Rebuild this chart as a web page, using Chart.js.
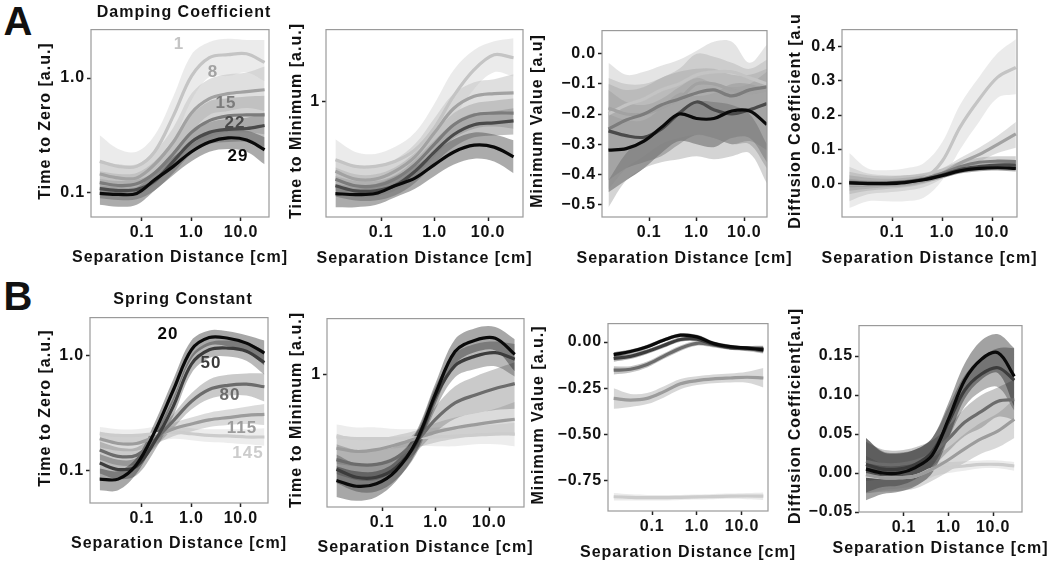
<!DOCTYPE html>
<html>
<head>
<meta charset="utf-8">
<script src="https://cdn.jsdelivr.net/npm/chart.js@4.4.1/dist/chart.umd.min.js"></script>
<style>
  html, body { margin: 0; padding: 0; background: #fff; }
  body { width: 1050px; height: 563px; position: relative; overflow: hidden; font-family: "Liberation Sans", Arial, sans-serif; }
  canvas { position: absolute; z-index: 1; }
  .txt { position: absolute; z-index: 2; font-weight: bold; color: #111; transform: translate(-50%, -50%); white-space: nowrap; line-height: 1; letter-spacing: 1px; }
</style>
</head>
<body>
<div class="txt" style="left:18px;top:21px;font-size:40px;letter-spacing:0">A</div>
<div class="txt" style="left:18px;top:296px;font-size:40px;letter-spacing:0">B</div>
<div class="txt" style="left:184px;top:12px;font-size:16px">Damping Coefficient</div>
<div class="txt" style="left:183px;top:299px;font-size:16px">Spring Constant</div>
<script>
const FONT = "'Liberation Sans', Arial, sans-serif";

// separation distance [cm] where the smoothed curves are sampled
const distance = [0.014, 0.033, 0.078, 0.18, 0.43, 1.0, 2.3, 5.5, 13, 30];

const dampingLevels = ["1", "8", "15", "22", "29"];
const springLevels = ["20", "50", "80", "115", "145"];
const dampingGreys = ["#c4c4c4", "#a2a2a2", "#7c7c7c", "#4a4a4a", "#0a0a0a"];
const springGreys = ["#0a0a0a", "#3c3c3c", "#6c6c6c", "#9c9c9c", "#cccccc"];

const xTicks = [0.1, 1, 10];
const xTickLabels = ["0.1", "1.0", "10.0"];
const xTitle = "Separation Distance [cm]";

// ---- A: damping coefficient ----
const zeroDampMid = [
  [0.187, 0.169, 0.169, 0.227, 0.467, 1.04, 1.51, 1.60, 1.63, 1.37],
  [0.145, 0.134, 0.134, 0.176, 0.276, 0.495, 0.66, 0.73, 0.76, 0.79],
  [0.122, 0.115, 0.119, 0.148, 0.218, 0.335, 0.424, 0.467, 0.476, 0.476],
  [0.108, 0.104, 0.106, 0.126, 0.187, 0.276, 0.335, 0.356, 0.362, 0.385],
  [0.098, 0.096, 0.098, 0.129, 0.169, 0.227, 0.276, 0.30, 0.287, 0.236]
];
const zeroDampHigh = [
  [0.316, 0.24, 0.227, 0.316, 0.69, 1.6, 2.06, 2.2, 2.15, 2.15],
  [0.187, 0.176, 0.176, 0.227, 0.37, 0.731, 0.98, 1.08, 1.12, 1.26],
  [0.153, 0.145, 0.148, 0.187, 0.287, 0.476, 0.627, 0.664, 0.69, 0.70],
  [0.131, 0.126, 0.129, 0.151, 0.227, 0.335, 0.408, 0.44, 0.45, 0.50],
  [0.115, 0.112, 0.112, 0.148, 0.205, 0.265, 0.33, 0.356, 0.348, 0.304]
];
const zeroDampLow = [
  [0.110, 0.104, 0.110, 0.163, 0.276, 0.638, 1.02, 1.04, 1.12, 0.94],
  [0.108, 0.104, 0.104, 0.134, 0.206, 0.335, 0.476, 0.515, 0.546, 0.515],
  [0.094, 0.092, 0.094, 0.117, 0.169, 0.25, 0.304, 0.335, 0.335, 0.322],
  [0.089, 0.086, 0.087, 0.104, 0.148, 0.218, 0.265, 0.276, 0.276, 0.25],
  [0.078, 0.075, 0.078, 0.104, 0.142, 0.187, 0.227, 0.24, 0.227, 0.176]
];

const minDampMid = [
  [0.464, 0.425, 0.425, 0.453, 0.527, 0.708, 1.08, 1.52, 1.85, 1.78],
  [0.398, 0.359, 0.359, 0.398, 0.482, 0.664, 0.914, 1.07, 1.11, 1.12],
  [0.359, 0.329, 0.329, 0.359, 0.435, 0.57, 0.736, 0.836, 0.858, 0.858],
  [0.329, 0.308, 0.308, 0.329, 0.398, 0.514, 0.647, 0.736, 0.755, 0.774],
  [0.297, 0.293, 0.297, 0.329, 0.364, 0.435, 0.514, 0.562, 0.548, 0.482]
];
const minDampHigh = [
  [0.607, 0.514, 0.501, 0.548, 0.664, 0.975, 1.52, 1.97, 2.21, 2.30],
  [0.464, 0.425, 0.425, 0.464, 0.57, 0.805, 1.11, 1.29, 1.34, 1.43],
  [0.419, 0.383, 0.383, 0.419, 0.508, 0.664, 0.858, 0.975, 1.01, 1.04],
  [0.374, 0.35, 0.35, 0.378, 0.464, 0.6, 0.755, 0.858, 0.88, 0.914],
  [0.337, 0.329, 0.337, 0.374, 0.425, 0.514, 0.607, 0.664, 0.647, 0.60]
];
const minDampLow = [
  [0.329, 0.316, 0.329, 0.359, 0.425, 0.548, 0.805, 1.18, 1.47, 1.39],
  [0.329, 0.308, 0.308, 0.341, 0.409, 0.548, 0.736, 0.858, 0.88, 0.88],
  [0.308, 0.286, 0.286, 0.308, 0.369, 0.482, 0.615, 0.699, 0.718, 0.699],
  [0.286, 0.271, 0.271, 0.289, 0.341, 0.441, 0.548, 0.623, 0.639, 0.647],
  [0.248, 0.248, 0.255, 0.282, 0.316, 0.374, 0.435, 0.47, 0.453, 0.388]
];

const valDampMid = [
  [-0.2, -0.17, -0.15, -0.12, -0.1, -0.07, -0.06, -0.06, -0.08, -0.1],
  [-0.18, -0.2, -0.2, -0.18, -0.15, -0.1, -0.1, -0.12, -0.13, -0.12],
  [-0.25, -0.22, -0.2, -0.17, -0.15, -0.13, -0.12, -0.14, -0.12, -0.11],
  [-0.256, -0.272, -0.277, -0.25, -0.197, -0.16, -0.186, -0.2, -0.186, -0.165],
  [-0.32, -0.315, -0.29, -0.245, -0.2, -0.215, -0.215, -0.19, -0.19, -0.235]
];
const valDampHigh = [
  [-0.03, -0.07, -0.06, -0.04, -0.02, 0.01, 0.04, 0.04, -0.03, 0.03],
  [-0.08, -0.1, -0.1, -0.08, -0.05, 0.0, -0.01, -0.03, -0.05, -0.02],
  [-0.1, -0.12, -0.11, -0.08, -0.06, -0.05, -0.05, -0.07, -0.07, -0.05],
  [-0.12, -0.16, -0.17, -0.15, -0.11, -0.08, -0.1, -0.11, -0.1, -0.06],
  [-0.2, -0.22, -0.22, -0.18, -0.13, -0.14, -0.13, -0.1, -0.1, -0.12]
];
const valDampLow = [
  [-0.42, -0.33, -0.28, -0.24, -0.2, -0.16, -0.16, -0.17, -0.2, -0.3],
  [-0.51, -0.42, -0.38, -0.36, -0.35, -0.34, -0.35, -0.34, -0.33, -0.43],
  [-0.45, -0.38, -0.34, -0.3, -0.28, -0.27, -0.28, -0.3, -0.3, -0.38],
  [-0.42, -0.38, -0.36, -0.34, -0.3, -0.27, -0.28, -0.3, -0.29, -0.32],
  [-0.46, -0.42, -0.38, -0.33, -0.29, -0.3, -0.31, -0.28, -0.28, -0.36]
];

const diffDampMid = [
  [0.0, 0.0, 0.002, 0.005, 0.015, 0.065, 0.165, 0.245, 0.31, 0.338],
  [0.0, 0.0, 0.0, 0.004, 0.012, 0.03, 0.06, 0.085, 0.115, 0.145],
  [0.005, 0.003, 0.003, 0.006, 0.015, 0.03, 0.05, 0.063, 0.066, 0.065],
  [0.004, 0.002, 0.002, 0.005, 0.013, 0.026, 0.042, 0.05, 0.055, 0.055],
  [0.003, 0.001, 0.001, 0.004, 0.012, 0.024, 0.038, 0.045, 0.047, 0.045]
];
const diffDampHigh = [
  [0.09, 0.045, 0.04, 0.045, 0.06, 0.12, 0.23, 0.31, 0.38, 0.42],
  [0.05, 0.03, 0.025, 0.025, 0.03, 0.045, 0.075, 0.105, 0.14, 0.18],
  [0.035, 0.025, 0.022, 0.025, 0.032, 0.045, 0.065, 0.076, 0.08, 0.08],
  [0.025, 0.018, 0.015, 0.018, 0.025, 0.036, 0.052, 0.06, 0.065, 0.068],
  [0.015, 0.01, 0.009, 0.012, 0.02, 0.032, 0.046, 0.053, 0.055, 0.055]
];
const diffDampLow = [
  [-0.07, -0.05, -0.05, -0.05, -0.04, 0.01, 0.1, 0.18, 0.25, 0.26],
  [-0.05, -0.03, -0.025, -0.02, -0.01, 0.015, 0.045, 0.065, 0.09, 0.105],
  [-0.03, -0.02, -0.015, -0.01, 0.0, 0.018, 0.036, 0.05, 0.052, 0.05],
  [-0.02, -0.014, -0.01, -0.007, 0.003, 0.017, 0.032, 0.04, 0.044, 0.042],
  [-0.01, -0.008, -0.006, -0.003, 0.004, 0.016, 0.03, 0.037, 0.039, 0.036]
];

// ---- B: spring constant ----
const zeroSpringMid = [
  [0.085, 0.085, 0.114, 0.217, 0.5, 1.12, 1.43, 1.41, 1.28, 1.05],
  [0.117, 0.103, 0.11, 0.179, 0.363, 0.84, 1.12, 1.16, 1.09, 0.87],
  [0.152, 0.134, 0.137, 0.185, 0.272, 0.40, 0.508, 0.552, 0.565, 0.536],
  [0.19, 0.173, 0.173, 0.197, 0.231, 0.255, 0.277, 0.29, 0.303, 0.309],
  [0.21, 0.203, 0.203, 0.21, 0.217, 0.21, 0.203, 0.201, 0.197, 0.197]
];
const zeroSpringHigh = [
  [0.105, 0.1, 0.13, 0.26, 0.62, 1.35, 1.65, 1.62, 1.5, 1.35],
  [0.14, 0.125, 0.13, 0.21, 0.43, 1.0, 1.3, 1.35, 1.3, 1.1],
  [0.18, 0.16, 0.16, 0.21, 0.31, 0.47, 0.62, 0.68, 0.7, 0.7],
  [0.22, 0.2, 0.2, 0.22, 0.26, 0.29, 0.32, 0.34, 0.36, 0.38],
  [0.24, 0.23, 0.23, 0.24, 0.245, 0.235, 0.23, 0.23, 0.23, 0.235]
];
const zeroSpringLow = [
  [0.068, 0.068, 0.095, 0.18, 0.4, 0.93, 1.22, 1.2, 1.08, 0.82],
  [0.095, 0.085, 0.092, 0.15, 0.3, 0.7, 0.95, 0.98, 0.9, 0.68],
  [0.125, 0.112, 0.115, 0.16, 0.235, 0.34, 0.42, 0.45, 0.45, 0.4],
  [0.16, 0.15, 0.15, 0.17, 0.2, 0.22, 0.24, 0.25, 0.255, 0.25],
  [0.18, 0.175, 0.175, 0.18, 0.19, 0.185, 0.178, 0.175, 0.17, 0.165]
];

const minSpringMid = [
  [0.248, 0.23, 0.238, 0.282, 0.414, 0.784, 1.36, 1.58, 1.62, 1.31],
  [0.288, 0.259, 0.259, 0.294, 0.405, 0.752, 1.13, 1.28, 1.34, 1.23],
  [0.327, 0.307, 0.307, 0.334, 0.414, 0.557, 0.69, 0.767, 0.836, 0.891],
  [0.38, 0.364, 0.373, 0.397, 0.432, 0.47, 0.497, 0.519, 0.539, 0.557],
  [0.441, 0.432, 0.432, 0.432, 0.436, 0.441, 0.446, 0.452, 0.458, 0.458]
];
const minSpringHigh = [
  [0.3, 0.28, 0.28, 0.32, 0.47, 0.9, 1.6, 1.85, 1.88, 1.6],
  [0.35, 0.31, 0.31, 0.34, 0.46, 0.86, 1.32, 1.5, 1.55, 1.5],
  [0.4, 0.37, 0.37, 0.39, 0.47, 0.66, 0.86, 0.98, 1.08, 1.18],
  [0.46, 0.43, 0.43, 0.45, 0.48, 0.53, 0.57, 0.6, 0.64, 0.7],
  [0.52, 0.5, 0.5, 0.49, 0.49, 0.5, 0.5, 0.51, 0.52, 0.53]
];
const minSpringLow = [
  [0.2, 0.19, 0.2, 0.245, 0.36, 0.68, 1.15, 1.35, 1.38, 1.05],
  [0.24, 0.215, 0.215, 0.25, 0.35, 0.64, 0.97, 1.08, 1.12, 0.98],
  [0.27, 0.25, 0.25, 0.285, 0.36, 0.47, 0.56, 0.6, 0.63, 0.64],
  [0.31, 0.3, 0.31, 0.34, 0.38, 0.41, 0.43, 0.45, 0.46, 0.45],
  [0.37, 0.37, 0.37, 0.38, 0.39, 0.39, 0.39, 0.4, 0.4, 0.39]
];

const valSpringMid = [
  [-0.068, -0.051, -0.025, 0.01, 0.037, 0.028, -0.007, -0.025, -0.033, -0.042],
  [-0.089, -0.077, -0.051, -0.019, 0.014, 0.016, -0.012, -0.03, -0.033, -0.037],
  [-0.152, -0.147, -0.121, -0.077, -0.033, -0.007, -0.016, -0.03, -0.037, -0.042],
  [-0.304, -0.313, -0.304, -0.269, -0.225, -0.208, -0.199, -0.194, -0.19, -0.194],
  [-0.835, -0.838, -0.84, -0.84, -0.838, -0.836, -0.834, -0.832, -0.831, -0.832]
];
const valSpringHigh = [
  [-0.055, -0.04, -0.014, 0.02, 0.047, 0.039, 0.004, -0.015, -0.023, -0.028],
  [-0.072, -0.063, -0.038, -0.006, 0.026, 0.028, 0.0, -0.019, -0.021, -0.02],
  [-0.13, -0.13, -0.105, -0.062, -0.018, 0.006, -0.003, -0.018, -0.024, -0.022],
  [-0.25, -0.28, -0.275, -0.24, -0.2, -0.185, -0.175, -0.17, -0.16, -0.14],
  [-0.815, -0.822, -0.825, -0.826, -0.825, -0.823, -0.82, -0.818, -0.815, -0.812]
];
const valSpringLow = [
  [-0.083, -0.063, -0.036, 0.0, 0.027, 0.017, -0.018, -0.035, -0.043, -0.058],
  [-0.106, -0.091, -0.064, -0.032, 0.002, 0.004, -0.024, -0.041, -0.045, -0.054],
  [-0.175, -0.164, -0.137, -0.092, -0.048, -0.02, -0.029, -0.042, -0.05, -0.062],
  [-0.36, -0.35, -0.335, -0.3, -0.255, -0.232, -0.222, -0.218, -0.22, -0.245],
  [-0.855, -0.855, -0.855, -0.855, -0.852, -0.85, -0.848, -0.846, -0.848, -0.852]
];

const diffSpringMid = [
  [0.005, 0.0, 0.0, 0.007, 0.023, 0.069, 0.119, 0.146, 0.154, 0.124],
  [0.011, 0.005, 0.005, 0.011, 0.027, 0.065, 0.106, 0.127, 0.135, 0.119],
  [0.015, 0.011, 0.011, 0.015, 0.025, 0.044, 0.065, 0.079, 0.092, 0.094],
  [-0.002, -0.006, -0.006, -0.004, 0.005, 0.017, 0.031, 0.044, 0.054, 0.069],
  [-0.004, -0.006, -0.006, -0.004, 0.005, 0.007, 0.009, 0.011, 0.011, 0.009]
];
const diffSpringHigh = [
  [0.045, 0.027, 0.025, 0.03, 0.045, 0.09, 0.14, 0.17, 0.178, 0.16],
  [0.045, 0.028, 0.026, 0.03, 0.045, 0.085, 0.125, 0.148, 0.16, 0.16],
  [0.04, 0.03, 0.029, 0.033, 0.042, 0.06, 0.083, 0.1, 0.11, 0.12],
  [0.022, 0.012, 0.011, 0.012, 0.02, 0.033, 0.05, 0.065, 0.077, 0.095],
  [0.018, 0.01, 0.008, 0.008, 0.015, 0.014, 0.015, 0.016, 0.016, 0.014]
];
const diffSpringLow = [
  [-0.035, -0.027, -0.024, -0.017, 0.0, 0.045, 0.095, 0.12, 0.128, 0.085],
  [-0.025, -0.018, -0.016, -0.008, 0.009, 0.045, 0.085, 0.105, 0.11, 0.08],
  [-0.01, -0.008, -0.007, -0.003, 0.008, 0.028, 0.047, 0.058, 0.072, 0.068],
  [-0.026, -0.024, -0.023, -0.02, -0.01, 0.002, 0.013, 0.025, 0.033, 0.045],
  [-0.026, -0.022, -0.02, -0.016, -0.005, 0.0, 0.003, 0.006, 0.006, 0.003]
];

// y tick values and labels
const zeroTicks = [0.1, 1];
const zeroTickLabels = ["0.1", "1.0"];
const minTicks = [1];
const minTickLabels = ["1"];
const valDampTicks = [0, -0.1, -0.2, -0.3, -0.4, -0.5];
const valDampTickLabels = ["0.0", "\u22120.1", "\u22120.2", "\u22120.3", "\u22120.4", "\u22120.5"];
const diffDampTicks = [0, 0.1, 0.2, 0.3, 0.4];
const diffDampTickLabels = ["0.0", "0.1", "0.2", "0.3", "0.4"];
const valSpringTicks = [0, -0.25, -0.5, -0.75];
const valSpringTickLabels = ["0.00", "\u22120.25", "\u22120.50", "\u22120.75"];
const diffSpringTicks = [-0.05, 0, 0.05, 0.1, 0.15];
const diffSpringTickLabels = ["\u22120.05", "0.00", "0.05", "0.10", "0.15"];

// where the direct labels of panel 1 sit (page pixels)
const dampLabelPos = [[179, 43], [213, 71], [226, 102], [235, 122], [238, 155]];
const springLabelPos = [[168, 333], [211, 362], [230, 394], [242, 427], [248, 452]];

const panels = [
  { box: [91, 24, 269, 217], yTitleX: 45, xTitleY: 257, xExp: [-2.03, 1.566], yType: "logarithmic", yRange: [0.061, 2.65],
    yTicks: zeroTicks, yLabels: zeroTickLabels, yTitle: "Time to Zero [a.u.]", bandAlpha: 0.34,
    mid: zeroDampMid, high: zeroDampHigh, low: zeroDampLow, greys: dampingGreys },
  { box: [326, 24, 523, 217], yTitleX: 296, xTitleY: 258, xExp: [-2.03, 1.654], yType: "logarithmic", yRange: [0.218, 2.58],
    yTicks: minTicks, yLabels: minTickLabels, yTitle: "Time to Minimum [a.u.]", bandAlpha: 0.34,
    mid: minDampMid, high: minDampHigh, low: minDampLow, greys: dampingGreys },
  { box: [602, 25, 767, 217], yTitleX: 537, xTitleY: 258, xExp: [-1.99, 1.48], yType: "linear", yRange: [-0.542, 0.077],
    yTicks: valDampTicks, yLabels: valDampTickLabels, yTitle: "Minimum Value [a.u]", bandAlpha: 0.46,
    mid: valDampMid, high: valDampHigh, low: valDampLow, greys: dampingGreys },
  { box: [842, 24, 1017, 217], yTitleX: 795, xTitleY: 258, xExp: [-2.0, 1.5], yType: "linear", yRange: [-0.096, 0.448],
    yTicks: diffDampTicks, yLabels: diffDampTickLabels, yTitle: "Diffusion Coefficient [a.u", bandAlpha: 0.34,
    mid: diffDampMid, high: diffDampHigh, low: diffDampLow, greys: dampingGreys },
  { box: [90, 312, 268, 503], yTitleX: 45, xTitleY: 543, xExp: [-2.05, 1.55], yType: "logarithmic", yRange: [0.0528, 2.13],
    yTicks: zeroTicks, yLabels: zeroTickLabels, yTitle: "Time to Zero [a.u.]", bandAlpha: 0.36,
    mid: zeroSpringMid, high: zeroSpringHigh, low: zeroSpringLow, greys: springGreys },
  { box: [327, 313, 524, 507], yTitleX: 296, xTitleY: 547, xExp: [-2.03, 1.65], yType: "logarithmic", yRange: [0.175, 2.1],
    yTicks: minTicks, yLabels: minTickLabels, yTitle: "Time to Minimum [a.u.]", bandAlpha: 0.36,
    mid: minSpringMid, high: minSpringHigh, low: minSpringLow, greys: springGreys },
  { box: [608, 318, 768, 511], yTitleX: 538, xTitleY: 552, xExp: [-1.98, 1.58], yType: "linear", yRange: [-0.912, 0.0996],
    yTicks: valSpringTicks, yLabels: valSpringTickLabels, yTitle: "Minimum Value [a.u.]", bandAlpha: 0.4,
    mid: valSpringMid, high: valSpringHigh, low: valSpringLow, greys: springGreys },
  { box: [859, 320, 1022, 512], yTitleX: 795, xTitleY: 548, xExp: [-2.01, 1.65], yType: "linear", yRange: [-0.05, 0.189],
    yTicks: diffSpringTicks, yLabels: diffSpringTickLabels, yTitle: "Diffusion Coefficient[a.u]", bandAlpha: 0.38,
    mid: diffSpringMid, high: diffSpringHigh, low: diffSpringLow, greys: springGreys }
];

const tickFont = { family: FONT, size: 16, weight: "bold" };

function rgba(hex, a) {
  const n = parseInt(hex.slice(1), 16);
  return "rgba(" + (n >> 16) + "," + ((n >> 8) & 255) + "," + (n & 255) + "," + a + ")";
}

function points(row) {
  return row.map((v, i) => ({ x: distance[i], y: v }));
}

function addText(txt, x, y, size, color, vertical) {
  const d = document.createElement("div");
  d.className = "txt";
  d.textContent = txt;
  d.style.left = x + "px";
  d.style.top = y + "px";
  d.style.fontSize = size + "px";
  if (color) d.style.color = color;
  if (vertical) d.style.transform = "translate(-50%, -50%) rotate(-90deg)";
  document.body.appendChild(d);
}

// grey frame round each panel, slightly wider tick lettering
const panelBorder = {
  id: "panelBorder",
  beforeDraw(chart) {
    chart.ctx.letterSpacing = "0.8px";
  },
  afterDatasetsDraw(chart) {
    const { ctx, chartArea: a } = chart;
    ctx.save();
    ctx.strokeStyle = "#9a9a9a";
    ctx.lineWidth = 1.2;
    ctx.strokeRect(a.left, a.top, a.right - a.left, a.bottom - a.top);
    ctx.restore();
  }
};

function makePanel(p) {
  const [l, t, r, b] = p.box;
  const left = Math.round(p.yTitleX - 10);
  const top = t - 6;
  const width = r + 6 - left;
  const height = Math.round(p.xTitleY + 10) - top;

  const canvas = document.createElement("canvas");
  canvas.width = width;
  canvas.height = height;
  canvas.style.left = left + "px";
  canvas.style.top = top + "px";
  canvas.style.width = width + "px";
  canvas.style.height = height + "px";
  document.body.appendChild(canvas);

  const yAxisW = l - left;
  const xAxisH = top + height - b;

  const bands = [];
  const lines = [];
  p.mid.forEach((row, i) => {
    const col = p.greys[i];
    const light = parseInt(col.slice(1, 3), 16);
    bands.push({
      data: points(p.high[i]), fill: "+1", backgroundColor: rgba(col, p.bandAlpha),
      borderWidth: 0, pointRadius: 0, tension: 0.35, order: 10
    });
    bands.push({
      data: points(p.low[i]), fill: false, borderWidth: 0, pointRadius: 0,
      tension: 0.35, order: 10
    });
    lines.push({
      data: points(row), borderColor: col, borderWidth: 3.2, pointRadius: 0, fill: false,
      tension: 0.35, order: 1 + light / 255
    });
  });

  new Chart(canvas, {
    type: "line",
    data: { datasets: bands.concat(lines) },
    options: {
      responsive: false,
      animation: false,
      layout: { padding: { top: 6, right: 6, left: 0, bottom: 0 } },
      plugins: {
        legend: { display: false },
        tooltip: { enabled: false },
        filler: { drawTime: "beforeDatasetsDraw" }
      },
      scales: {
        x: {
          type: "logarithmic",
          bounds: "data",
          min: Math.pow(10, p.xExp[0]),
          max: Math.pow(10, p.xExp[1]),
          afterFit: s => { s.height = xAxisH; },
          afterBuildTicks: s => { s.ticks = xTicks.map(v => ({ value: v })); },
          ticks: {
            callback: (v, i) => xTickLabels[i],
            font: tickFont, color: "#111", padding: 2, autoSkip: false, maxRotation: 0
          },
          grid: { display: true, drawOnChartArea: false, drawTicks: true, tickLength: 4, tickColor: "#222", tickWidth: 1.5 },
          border: { display: false }
        },
        y: {
          type: p.yType,
          bounds: "data",
          min: p.yRange[0],
          max: p.yRange[1],
          afterFit: s => { s.width = yAxisW; },
          afterBuildTicks: s => { s.ticks = p.yTicks.map(v => ({ value: v })); },
          ticks: {
            callback: (v, i) => p.yLabels[i],
            font: tickFont, color: "#111", padding: 2, autoSkip: false
          },
          grid: { display: true, drawOnChartArea: false, drawTicks: true, tickLength: 4, tickColor: "#222", tickWidth: 1.5 },
          border: { display: false }
        }
      }
    },
    plugins: [panelBorder]
  });

  // axis titles as page text so they may run past the panel frame
  addText(xTitle, (l + r) / 2, p.xTitleY, 16, null, false);
  addText(p.yTitle, p.yTitleX, (t + b) / 2, 16, null, true);
}

panels.forEach(makePanel);

dampingLevels.forEach((txt, i) => addText(txt, dampLabelPos[i][0], dampLabelPos[i][1], 17, dampingGreys[i], false));
springLevels.forEach((txt, i) => addText(txt, springLabelPos[i][0], springLabelPos[i][1], 17, springGreys[i], false));
</script>
</body>
</html>
